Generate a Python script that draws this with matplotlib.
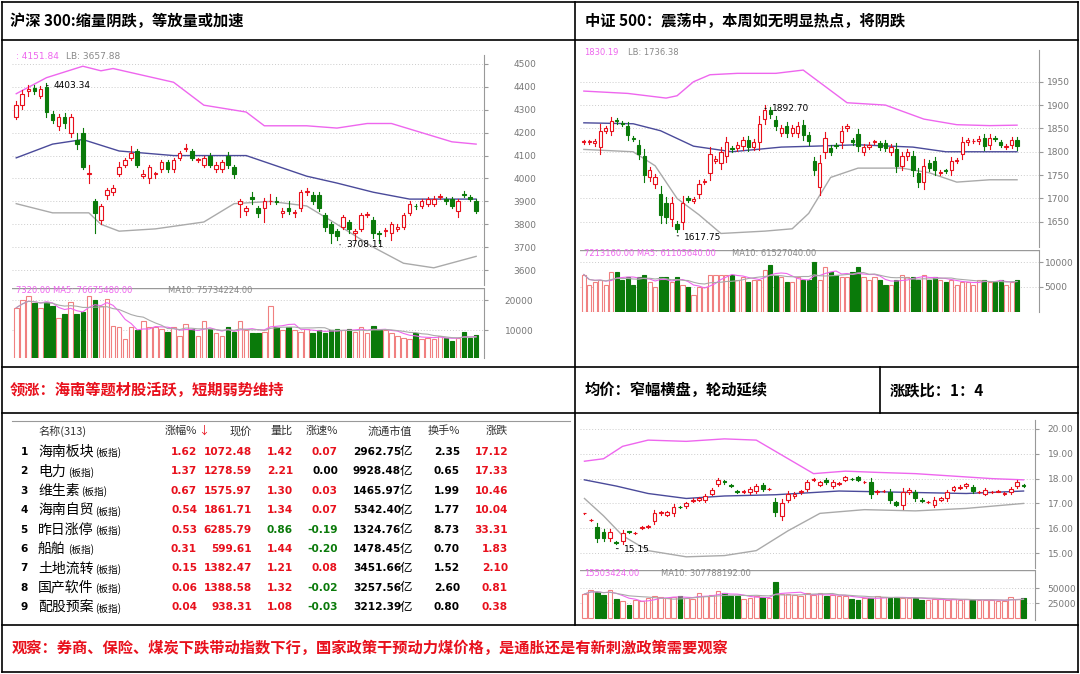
import matplotlib
matplotlib.use("Agg")
import matplotlib.pyplot as plt
import numpy as np
from matplotlib.patches import Rectangle

plt.rcParams['font.family'] = ['Noto Sans CJK SC', 'DejaVu Sans']
W, H = 1080, 674
fig = plt.figure(figsize=(10.8, 6.74), dpi=100)

RED = '#e8101c'; GREEN = '#0a7a0a'; PINK = '#ee66ee'; BLUE = '#4a4a9a'; GRAY = '#aaaaaa'
UPC = '#f08080'

# ---------------- DATA ----------------
# Chart 1: CSI 300
hs_open = [4270,4320,4380,4395,4360,4400,4280,4230,4270,4200,4170,4200,4020,3900,3820,3930,3940,4020,4060,4090,
           4120,4010,4000,4020,4040,4070,4040,4090,4130,4120,4080,4060,4100,4040,4040,4100,4050,3890,3860,3920,
           3870,3870,3900,3900,3850,3870,3850,3870,3940,3930,3930,3840,3800,3770,3790,3810,3760,3780,3840,3820,
           3760,3770,3760,3780,3790,3850,3880,3880,3890,3890,3920,3910,3910,3860,3930,3920,3900]
hs_close = [4320,4370,4390,4380,4390,4290,4255,4270,4240,4270,4150,4050,4020,3850,3880,3950,3960,4050,4080,4110,
            4060,4020,4050,4020,4070,4040,4080,4110,4130,4090,4080,4090,4060,4060,4070,4060,4020,3900,3870,3910,
            3850,3900,3902,3898,3860,3860,3852,3940,3942,3900,3870,3790,3760,3750,3830,3780,3770,3840,3842,3760,
            3758,3772,3800,3790,3840,3890,3878,3900,3910,3910,3922,3900,3880,3900,3928,3910,3860]
hs_high_ext = [20,15,20,15,15,15,15,10,15,10,30,20,40,10,10,10,10,20,10,30,10,15,10,10,10,10,10,10,20,10,
               10,10,10,10,10,15,10,10,10,20,10,15,30,20,10,30,10,10,15,10,10,10,10,10,10,10,10,10,10,10,
               10,10,10,10,10,10,10,10,10,15,10,10,10,10,15,10,10]
hs_low_ext = [10,15,20,10,10,20,15,20,20,20,20,10,40,90,20,20,10,10,10,10,10,10,20,20,10,10,10,10,10,10,
              10,10,10,10,10,15,20,60,20,20,20,60,10,10,20,15,20,10,10,10,10,20,40,20,10,20,30,10,10,20,
              40,20,30,10,10,10,10,10,10,10,10,10,10,30,10,10,10]
hs_vol = [17500,20000,21500,19000,17500,19500,18000,14000,15500,19500,15500,16000,21500,20000,18000,20500,11500,11000,7000,11000,
          10000,13000,11000,11000,10500,9500,11000,8000,12000,10500,8000,13000,10500,9000,8000,11000,9500,13000,10000,9000,
          9000,9500,18000,11000,10000,11000,10000,9500,10500,9000,10000,9000,10000,10500,10000,10500,9500,11000,9000,11500,
          10000,10000,9000,8000,7500,7000,9000,7000,7500,7000,8000,7500,6500,7500,9500,7500,8500]
hs_up_idx = [0,5,11,14,16,26,31,38,41,48,53,58,62,67,72,76]
hs_up_val = [4370,4440,4490,4470,4480,4420,4320,4290,4230,4230,4220,4240,4240,4200,4160,4150]
hs_mid_idx = [0,6,11,17,26,38,48,53,59,65,76]
hs_mid_val = [4090,4150,4170,4120,4100,4100,4010,3980,3940,3910,3910]
hs_low_idx = [0,6,12,14,17,23,31,36,42,48,53,59,64,69,76]
hs_low_val = [3890,3850,3850,3800,3770,3780,3810,3890,3900,3880,3800,3700,3630,3610,3660]

# Chart 2: CSI 500
zz_open = [1820,1820,1818,1810,1845,1845,1868,1862,1855,1830,1815,1790,1745,1730,1710,1690,1655,1645,1650,1700,
           1695,1710,1735,1755,1780,1775,1790,1808,1808,1812,1825,1810,1820,1870,1890,1868,1840,1855,1840,1840,
           1857,1835,1780,1725,1800,1808,1815,1820,1850,1825,1838,1800,1810,1820,1818,1818,1800,1805,1770,1790,
           1790,1755,1735,1775,1780,1755,1760,1760,1780,1795,1820,1822,1822,1830,1815,1830,1820,1810,1815,1825]
zz_close = [1822,1822,1822,1845,1850,1865,1865,1860,1835,1828,1795,1750,1760,1745,1665,1660,1690,1635,1690,1697,
            1698,1730,1738,1795,1785,1800,1820,1805,1815,1825,1810,1820,1860,1890,1880,1855,1850,1840,1850,1855,
            1835,1822,1760,1775,1830,1800,1812,1845,1855,1820,1813,1810,1815,1822,1810,1808,1810,1770,1790,1800,
            1760,1735,1770,1765,1760,1757,1758,1780,1783,1820,1825,1824,1828,1813,1830,1828,1815,1812,1825,1812]
zz_vol = [7500,5500,6000,6500,5500,8000,8000,6500,7000,5500,7000,7500,6000,5000,7000,7000,6000,7000,5500,5000,
          3500,5000,5000,7500,7500,7500,7500,7500,6500,7000,6000,6500,6500,8500,9500,7500,7000,6000,6000,7000,
          6500,6500,10000,6500,9000,8000,7500,7000,7000,8000,9000,7000,6500,7000,6500,5500,5500,6500,7500,7000,
          7000,6500,7500,6500,7000,6500,6000,6500,5500,6000,6000,5500,6500,6500,6000,6000,6500,5500,6000,6500]
zz_up_idx = [0,8,15,17,20,23,28,35,40,44,48,55,62,68,74,79]
zz_up_val = [1930,1925,1915,1920,1950,1965,1968,1968,1975,1940,1905,1900,1870,1858,1856,1857]
zz_mid_idx = [0,9,14,20,27,36,42,50,60,66,72,79]
zz_mid_val = [1862,1860,1845,1812,1800,1810,1812,1815,1810,1800,1800,1800]
zz_low_idx = [0,9,13,17,21,25,33,38,41,45,50,58,63,68,74,79]
zz_low_val = [1805,1800,1770,1700,1665,1625,1630,1635,1668,1745,1765,1765,1755,1735,1740,1740]

# Chart 3: average-price index
av_open = [16.6,16.33,16.05,15.85,15.6,15.45,15.5,15.87,15.8,16.0,16.05,16.3,16.6,16.55,16.6,16.85,16.9,17.1,17.15,17.15,
           17.4,17.8,17.9,17.75,17.5,17.48,17.45,17.5,17.75,17.58,17.05,16.5,17.15,17.3,17.45,17.6,17.95,17.75,17.95,17.7,
           17.8,17.95,18.0,18.05,17.85,17.85,17.45,17.5,17.45,17.05,16.95,17.45,17.45,17.15,17.05,16.95,17.15,17.2,17.55,17.62,
           17.7,17.65,17.45,17.4,17.45,17.48,17.4,17.45,17.7,17.75]
av_close = [16.6,16.35,15.6,15.6,15.85,15.4,15.8,15.86,15.82,16.05,16.1,16.6,16.65,16.65,16.85,16.84,17.0,17.15,17.2,17.3,
            17.55,17.95,17.85,17.72,17.48,17.5,17.6,17.7,17.6,17.6,16.65,17.0,17.4,17.4,17.5,17.85,17.97,17.85,17.85,17.85,
            17.82,18.05,17.98,17.95,17.86,17.4,17.5,17.52,17.15,16.95,17.45,17.55,17.2,17.1,17.06,17.15,17.2,17.45,17.65,17.68,
            17.78,17.5,17.46,17.55,17.46,17.49,17.42,17.6,17.85,17.72]
av_vol = [40000,47000,44000,38000,46000,31000,28000,22000,30000,29000,34000,37000,35000,33000,35000,36000,34000,32000,42000,37000,
          39000,45000,42000,37000,36000,32000,33000,36000,35000,34000,60000,40000,40000,38000,37000,41000,38000,41000,36000,38000,
          37000,37000,32000,30000,33000,33000,36000,35000,33000,35000,33000,34000,34000,30000,30000,31000,31000,30000,31000,30000,
          31000,30000,30000,30000,30000,29000,28000,35000,32000,34000]
av_up_idx = [0,3,6,10,16,22,27,32,36,41,46,52,58,64,69]
av_up_val = [18.7,18.8,19.3,19.55,19.5,19.6,19.55,18.8,18.2,18.3,18.25,18.2,18.1,18.0,17.95]
av_mid_idx = [0,5,10,16,22,30,40,50,60,69]
av_mid_val = [17.95,17.7,17.4,17.2,17.3,17.35,17.5,17.45,17.4,17.5]
av_low_idx = [0,3,6,10,16,22,27,32,37,44,52,60,69]
av_low_val = [17.2,16.5,15.7,15.1,14.85,14.9,15.1,15.9,16.6,16.75,16.7,16.8,17.0]

# Table
tbl_names = ['海南板块','电力','维生素','海南自贸','昨日涨停','船舶','土地流转','国产软件','配股预案']
tbl_chg = ['1.62','1.37','0.67','0.54','0.53','0.31','0.15','0.06','0.04']
tbl_price = ['1072.48','1278.59','1575.97','1861.71','6285.79','599.61','1382.47','1388.58','938.31']
tbl_volr = ['1.42','2.21','1.30','1.34','0.86','1.44','1.21','1.32','1.08']
tbl_speed = ['0.07','0.00','0.03','0.07','-0.19','-0.20','0.08','-0.02','-0.03']
tbl_cap = ['2962.75亿','9928.48亿','1465.97亿','5342.40亿','1324.76亿','1478.45亿','3451.66亿','3257.56亿','3212.39亿']
tbl_turn = ['2.35','0.65','1.99','1.77','8.73','0.70','1.52','2.60','0.80']
tbl_up = ['17.12','17.33','10.46','10.04','33.31','1.83','2.10','0.81','0.38']
tbl_header = ['名称(313)','涨幅%','现价','量比','涨速%','流通市值','换手%','涨跌']

# ---------------- helpers ----------------
def ax_at(x0, y0, x1, y1):
    return fig.add_axes([x0 / W, 1 - y1 / H, (x1 - x0) / W, (y1 - y0) / H])

def style(ax, yticks, fmt, ylim, xlim, pad=6):
    ax.set_ylim(*ylim); ax.set_xlim(*xlim)
    ax.set_xticks([])
    ax.yaxis.tick_right()
    ax.set_yticks(yticks)
    ax.set_yticklabels([fmt.format(t) for t in yticks], fontsize=6.5, color='#777777', family='DejaVu Sans')
    ax.tick_params(axis='y', length=3, color='#999999', pad=pad)
    for y in yticks:
        ax.axhline(y, color='#cccccc', lw=0.7, ls=(0, (1, 2)), zorder=0)
    for s in ['top', 'left', 'bottom']:
        ax.spines[s].set_visible(False)
    ax.spines['right'].set_color('#999999')

def candles(ax, o, c, hext=None, lext=None, width=0.6):
    for i, (a, b) in enumerate(zip(o, c)):
        up = b >= a
        col = RED if up else GREEN
        lo, hi = min(a, b), max(a, b)
        he = hext[i] if hext else (hi - lo) * 0.3 + 0.002 * hi
        le = lext[i] if lext else (hi - lo) * 0.3 + 0.002 * hi
        ax.plot([i, i], [lo - le, hi + he], color=col, lw=0.8, zorder=2)
        h = max(hi - lo, 0.0008 * hi)
        if up:
            ax.add_patch(Rectangle((i - width / 2, lo), width, h, facecolor='white', edgecolor=col, lw=0.8, zorder=3))
        else:
            ax.add_patch(Rectangle((i - width / 2, lo), width, h, facecolor=GREEN, edgecolor=GREEN, lw=0.8, zorder=3))

def volumes(ax, o, c, v):
    for i, (a, b, vv) in enumerate(zip(o, c, v)):
        if b >= a:
            ax.bar(i, vv, 0.75, facecolor='white', edgecolor=UPC, lw=0.8)
        else:
            ax.bar(i, vv, 0.75, facecolor=GREEN, edgecolor=GREEN, lw=0.8)

def vol_ma(v, n):
    v = np.asarray(v, float)
    out = np.convolve(v, np.ones(n) / n, mode='full')[:len(v)]
    out[:n - 1] = [v[:k + 1].mean() for k in range(n - 1)]
    return out

# ---------------- frame lines ----------------
frame = fig.add_axes([0, 0, 1, 1]); frame.set_xlim(0, W); frame.set_ylim(H, 0); frame.axis('off')
for y in [2, 40, 367, 413, 625, 672]:
    frame.plot([2, 1078], [y, y], color='black', lw=1.2)
frame.plot([2, 2], [2, 672], color='black', lw=1.2)
frame.plot([1078, 1078], [2, 672], color='black', lw=1.2)
frame.plot([575, 575], [2, 625], color='black', lw=1.2)
frame.plot([880, 880], [367, 413], color='black', lw=1.2)

tkw = dict(fontsize=11, fontweight='bold', va='center')
frame.text(10, 21, '沪深 300:缩量阴跌，等放量或加速', color='black', **tkw)
frame.text(585, 21, '中证 500：震荡中，本周如无明显热点，将阴跌', color='black', **tkw)
frame.text(10, 390, '领涨：海南等题材股活跃，短期弱势维持', color=RED, **tkw)
frame.text(585, 390, '均价：窄幅横盘，轮动延续', color='black', **tkw)
frame.text(890, 390, '涨跌比：1：4', color='black', **tkw)
frame.text(12, 648, '观察：券商、保险、煤炭下跌带动指数下行，国家政策干预动力煤价格，是通胀还是有新刺激政策需要观察',
           color=RED, **tkw)

# ---------------- chart 1 ----------------
n1 = len(hs_open)
a1 = ax_at(12, 55, 484, 285)
style(a1, [3600, 3700, 3800, 3900, 4000, 4100, 4200, 4300, 4400, 4500], '{:.0f}', (3535, 4539), (-0.7, n1 + 0.3), pad=18)
a1.plot(hs_up_idx, hs_up_val, color=PINK, lw=1)
a1.plot(hs_mid_idx, hs_mid_val, color=BLUE, lw=1)
a1.plot(hs_low_idx, hs_low_val, color=GRAY, lw=1)
candles(a1, hs_open, hs_close, hs_high_ext, hs_low_ext)
a1.annotate('4403.34', xy=(5, 4405), xytext=(6.2, 4395), fontsize=6.5, family='DejaVu Sans',
            arrowprops=dict(arrowstyle='-', lw=0.6))
a1.annotate('3708.11', xy=(53, 3710), xytext=(54.5, 3703), fontsize=6.5, family='DejaVu Sans',
            arrowprops=dict(arrowstyle='-', lw=0.6))
a1.text(0, 4520, ': 4151.84', color=PINK, fontsize=6.5, family='DejaVu Sans')
a1.text(8.3, 4520, 'LB: 3657.88', color='#888888', fontsize=6.5, family='DejaVu Sans')
v1 = ax_at(12, 288, 484, 358)
style(v1, [10000, 20000], '{:.0f}', (690, 24100), (-0.7, n1 + 0.3), pad=12)
volumes(v1, hs_open, hs_close, hs_vol)
v1.plot(vol_ma(hs_vol, 5), color=PINK, lw=0.8)
v1.plot(vol_ma(hs_vol, 10), color=GRAY, lw=0.8)
v1.axhline(24100, color='#999999', lw=1)
v1.text(0, 22300, '7320.00 MA5: 76675480.00', color=PINK, fontsize=6, family='DejaVu Sans')
v1.text(25, 22300, 'MA10: 75734224.00', color='#888888', fontsize=6, family='DejaVu Sans')

# ---------------- chart 2 ----------------
n2 = len(zz_open)
a2 = ax_at(580, 50, 1039, 247)
style(a2, [1650, 1700, 1750, 1800, 1850, 1900, 1950], '{:.0f}', (1596, 2018), (-0.7, n2 + 3), pad=3)
a2.plot(zz_up_idx, zz_up_val, color=PINK, lw=1)
a2.plot(zz_mid_idx, zz_mid_val, color=BLUE, lw=1)
a2.plot(zz_low_idx, zz_low_val, color=GRAY, lw=1)
candles(a2, zz_open, zz_close)
a2.annotate('1892.70', xy=(33, 1893), xytext=(34.3, 1888), fontsize=6.5, family='DejaVu Sans',
            arrowprops=dict(arrowstyle='-', lw=0.6))
a2.annotate('1617.75', xy=(17, 1620), xytext=(18.3, 1612), fontsize=6.5, family='DejaVu Sans',
            arrowprops=dict(arrowstyle='-', lw=0.6))
a2.text(0, 2008, '1830.19', color=PINK, fontsize=6, family='DejaVu Sans')
a2.text(8, 2008, 'LB: 1736.38', color='#888888', fontsize=6, family='DejaVu Sans')
v2 = ax_at(580, 250, 1039, 312)
style(v2, [5000, 10000], '{:.0f}', (0, 12400), (-0.7, n2 + 3), pad=1)
volumes(v2, zz_open, zz_close, zz_vol)
v2.plot(vol_ma(zz_vol, 5), color=PINK, lw=0.8)
v2.plot(vol_ma(zz_vol, 10), color=GRAY, lw=0.8)
v2.axhline(12400, color='#999999', lw=1)
v2.text(0, 11300, '7213160.00 MA5: 61105640.00', color=PINK, fontsize=6, family='DejaVu Sans')
v2.text(27, 11300, 'MA10: 61527040.00', color='#888888', fontsize=6, family='DejaVu Sans')

# ---------------- chart 3 ----------------
n3 = len(av_open)
a3 = ax_at(580, 420, 1035, 568)
style(a3, [15, 16, 17, 18, 19, 20], '{:.2f}', (14.4, 20.36), (-0.7, n3 + 0.8))
a3.plot(av_up_idx, av_up_val, color=PINK, lw=1)
a3.plot(av_mid_idx, av_mid_val, color=BLUE, lw=1)
a3.plot(av_low_idx, av_low_val, color=GRAY, lw=1)
candles(a3, av_open, av_close)
a3.annotate('15.15', xy=(5, 15.18), xytext=(6.2, 15.05), fontsize=6.5, family='DejaVu Sans',
            arrowprops=dict(arrowstyle='-', lw=0.6))
v3 = ax_at(580, 570, 1035, 620)
style(v3, [25000, 50000], '{:.0f}', (-3300, 80000), (-0.7, n3 + 0.8))
volumes(v3, av_open, av_close, av_vol)
v3.plot(vol_ma(av_vol, 5), color=PINK, lw=0.8)
v3.plot(vol_ma(av_vol, 10), color=GRAY, lw=0.8)
v3.axhline(80000, color='#999999', lw=1)
v3.text(0, 70000, '15503424.00', color=PINK, fontsize=6, family='DejaVu Sans')
v3.text(12, 70000, 'MA10: 307788192.00', color='#888888', fontsize=6, family='DejaVu Sans')

# ---------------- table ----------------
frame.plot([12, 570], [421, 421], color='#999999', lw=0.8)
hx = [38, 197, 252, 293, 338, 412, 460, 508]
frame.text(hx[0], 431, tbl_header[0], fontsize=8, va='center', ha='left', color='#333333')
for x, t in zip(hx[1:], tbl_header[1:]):
    frame.text(x, 431, t, fontsize=8, va='center', ha='right', color='#333333')
frame.text(198, 431, '↓', fontsize=8, va='center', color=RED)

def col_of(s):
    v = float(s)
    return RED if v > 0 else (GREEN if v < 0 else 'black')

for k in range(len(tbl_names)):
    y = 452 + k * 19.4
    tk = dict(fontsize=7.6, va='center', fontweight='bold', family='DejaVu Sans')
    frame.text(24, y, str(k + 1), ha='center', color='black', **tk)
    frame.text(38, y, tbl_names[k], fontsize=10, va='center', ha='left', color='black')
    frame.text(38 + 13.5 * len(tbl_names[k]) + 3, y + 1, '(板指)', fontsize=7, va='center', ha='left', color='black')
    frame.text(hx[1], y, tbl_chg[k], ha='right', color=RED, **tk)
    frame.text(hx[2], y, tbl_price[k], ha='right', color=RED, **tk)
    frame.text(hx[3], y, tbl_volr[k], ha='right', color=RED if float(tbl_volr[k]) >= 1 else GREEN, **tk)
    frame.text(hx[4], y, tbl_speed[k], ha='right', color=col_of(tbl_speed[k]), **tk)
    frame.text(hx[5] - 11, y, tbl_cap[k][:-1], ha='right', color='black', **tk)
    frame.text(hx[5], y, '亿', fontsize=9, ha='right', va='center', color='black')
    frame.text(hx[6], y, tbl_turn[k], ha='right', color='black', **tk)
    frame.text(hx[7], y, tbl_up[k], ha='right', color=RED, **tk)

fig.savefig('out.png', dpi=100)
